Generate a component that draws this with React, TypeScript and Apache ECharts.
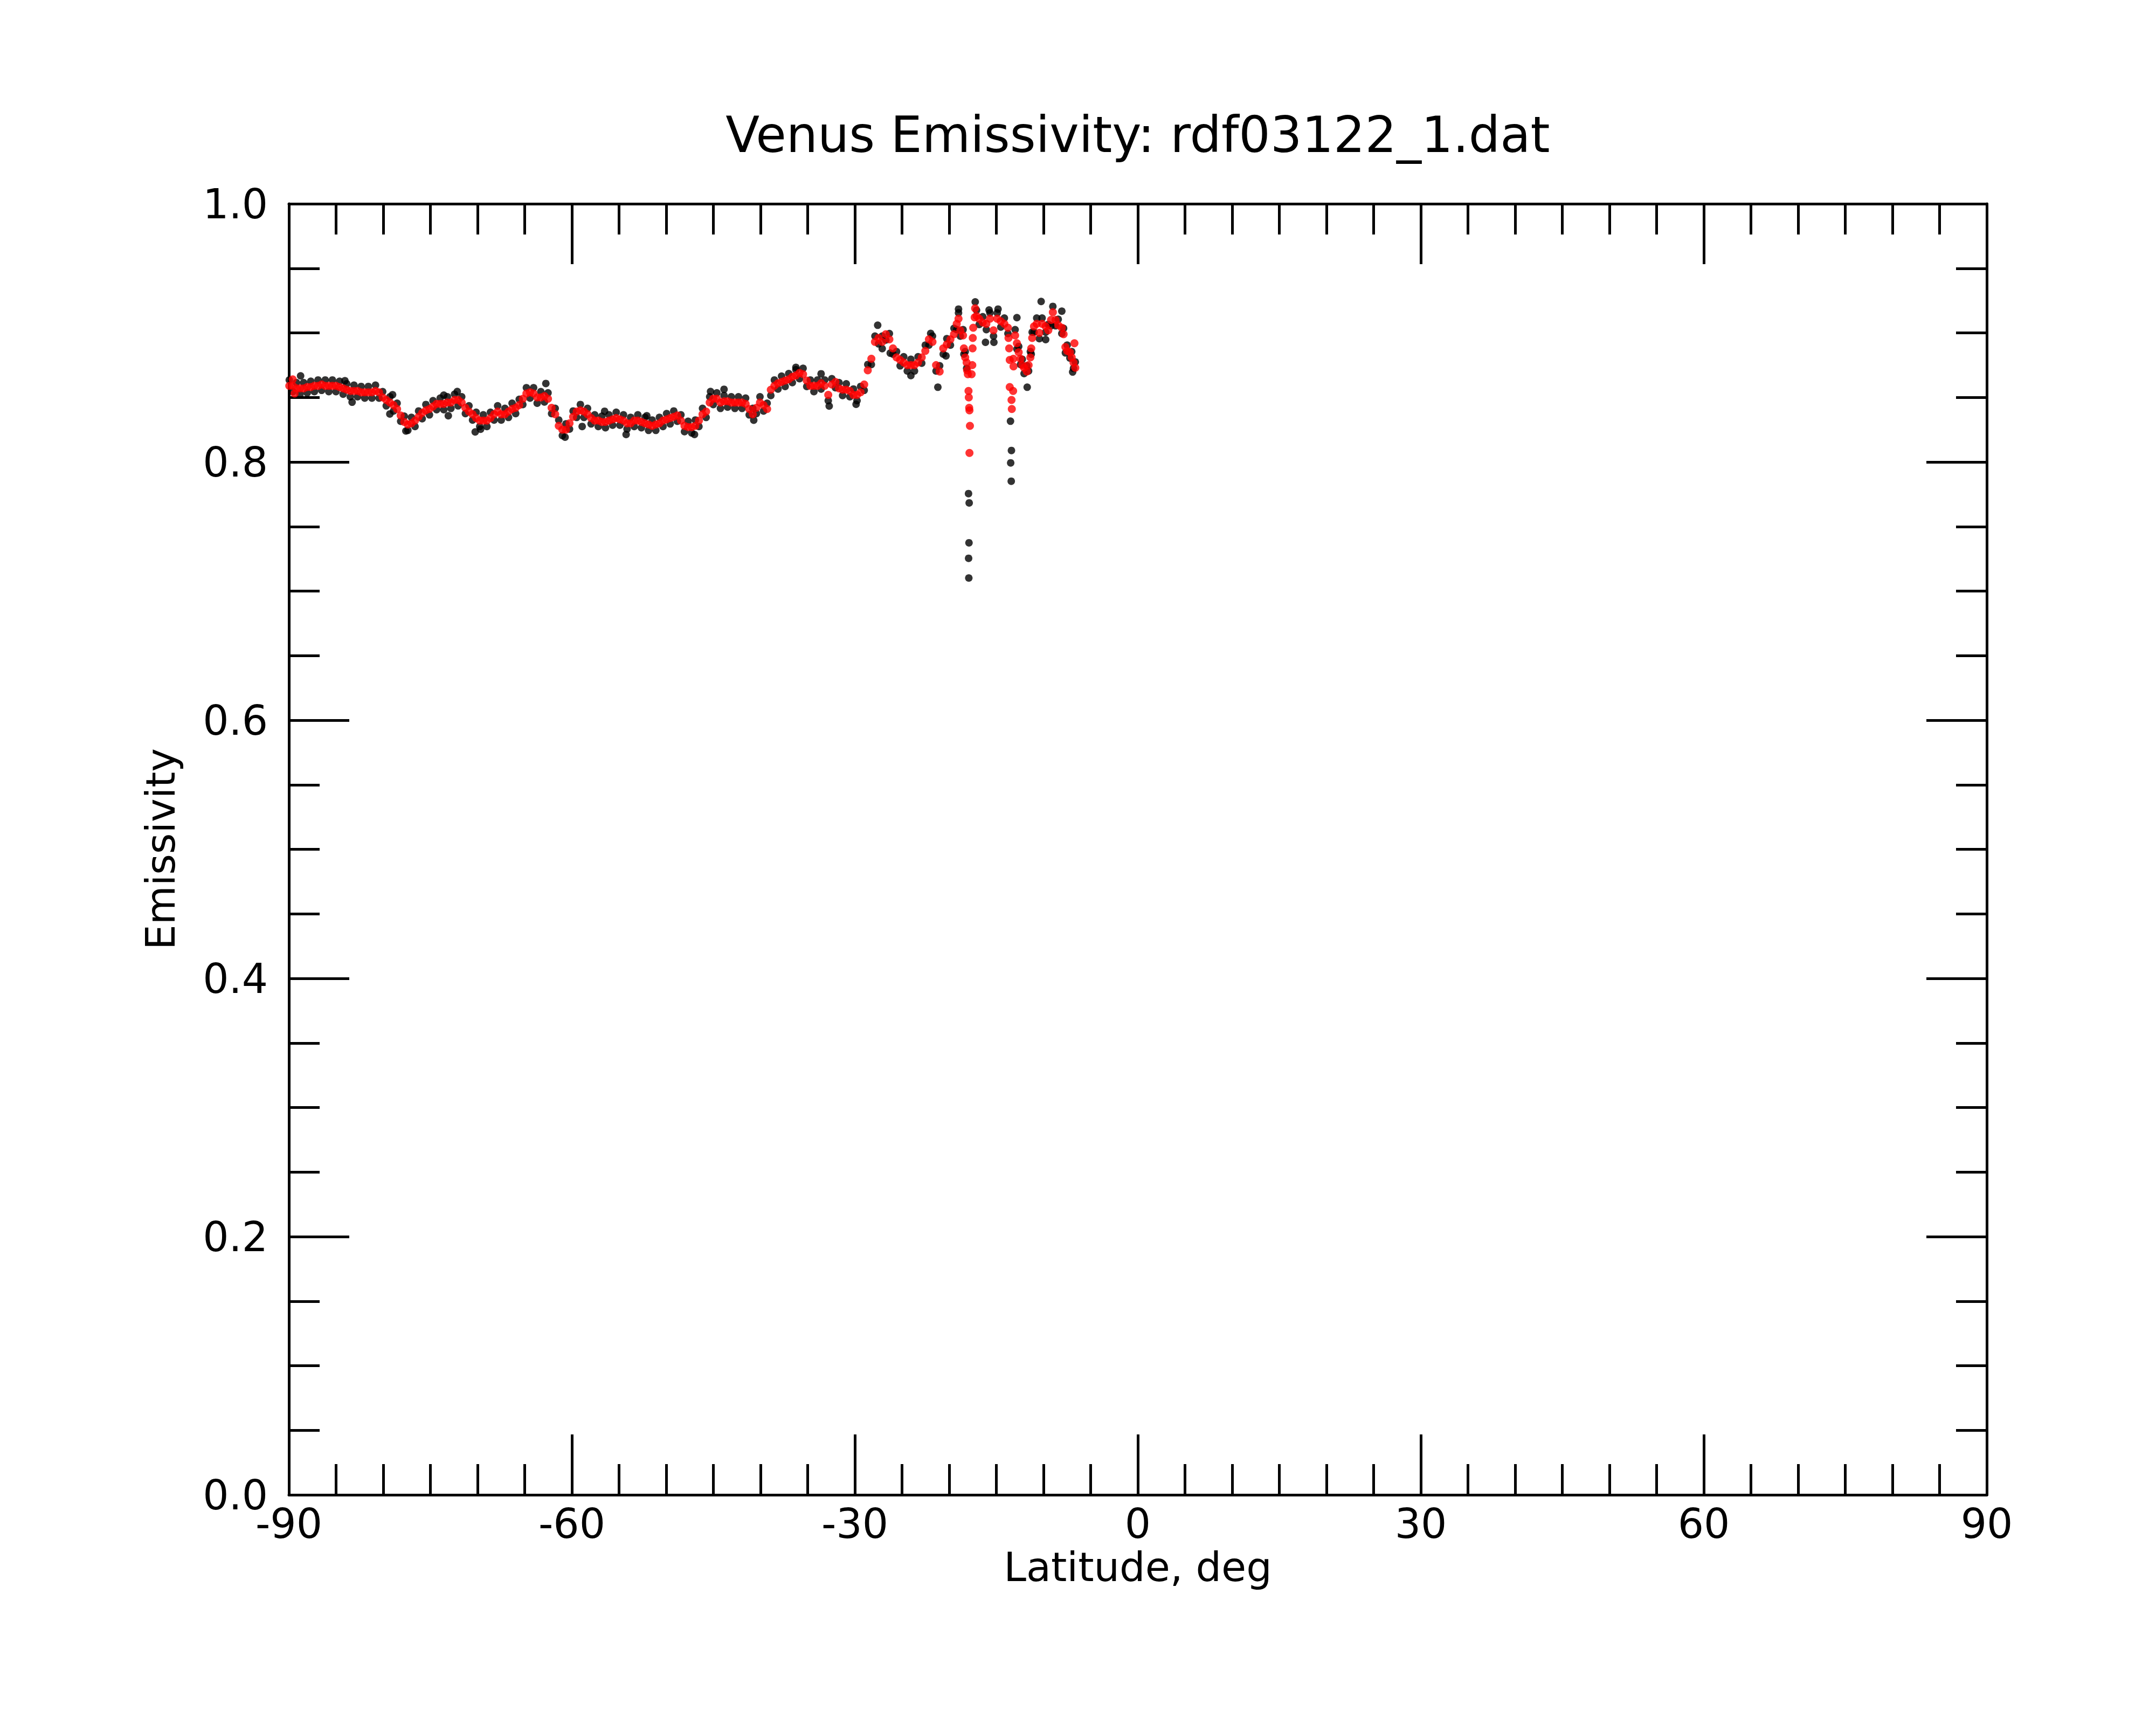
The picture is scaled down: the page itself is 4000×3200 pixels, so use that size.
import React, { useEffect, useRef } from "react";
import * as echarts from "echarts";

// ---- Data ----
const TITLE = "Venus Emissivity: rdf03122_1.dat";
const X_NAME = "Latitude, deg";
const Y_NAME = "Emissivity";

// latitudes of the smoothed (red) track, with black raw samples beside them
const BAND_LAT = [
  -89.96, -89.58, -89.20, -88.82, -88.44, -88.06, -87.68, -87.30, -86.91, -86.53,
  -86.15, -85.77, -85.39, -85.01, -84.63, -84.25, -83.87, -83.49, -83.10, -82.72,
  -82.34, -81.96, -81.58, -81.20, -80.82, -80.44, -80.06, -79.68, -79.29, -78.91,
  -78.53, -78.15, -77.77, -77.39, -77.01, -76.63, -76.25, -75.87, -75.48, -75.10,
  -74.72, -74.34, -73.96, -73.58, -73.20, -72.82, -72.44, -72.06, -71.68, -71.29,
  -70.91, -70.53, -70.15, -69.77, -69.39, -69.01, -68.63, -68.25, -67.87, -67.49,
  -67.10, -66.72, -66.34, -65.96, -65.58, -65.20, -64.82, -64.44, -64.06, -63.68,
  -63.29, -62.91, -62.53, -62.15, -61.77,
  -61.39, -61.01, -60.63, -60.25, -59.87, -59.49, -59.10, -58.72, -58.34, -57.96,
  -57.58, -57.20, -56.82, -56.44, -56.06, -55.68, -55.30, -54.91, -54.53, -54.15,
  -53.77, -53.39, -53.01, -52.63, -52.25, -51.87, -51.49, -51.10, -50.72, -50.34,
  -49.96, -49.58, -49.20, -48.82, -48.44, -48.06, -47.68, -47.30, -46.91, -46.53,
  -46.15, -45.77, -45.39, -45.01, -44.63, -44.25, -43.87, -43.49, -43.10, -42.72,
  -42.34, -41.96, -41.58, -41.20, -40.82, -40.44, -40.06, -39.68, -39.30, -38.91,
  -38.53, -38.15, -37.77, -37.39, -37.01, -36.63, -36.25, -35.87, -35.49, -35.10,
  -34.72, -34.34, -33.96, -33.58, -33.20, -32.82, -32.44, -32.06, -31.68, -31.30,
  -30.91, -30.53, -30.15, -29.77, -29.39, -29.01, -28.63, -28.25, -27.87, -27.49,
  -27.10, -26.72, -26.34, -25.96, -25.58, -25.20, -24.82, -24.44, -24.06, -23.68,
  -23.30, -22.91, -22.53, -22.15, -21.77, -21.39, -21.01, -20.63,
  -20.25, -19.87, -19.49, -19.20, -19.01, -18.82, -18.53, -18.44, -18.30, -18.15,
  -17.10, -16.82, -16.44, -16.06, -15.68, -15.30, -14.91, -14.53, -14.15, -13.77,
  -13.01, -12.82, -12.63, -12.44, -12.25, -12.06, -11.77, -11.58, -11.39, -11.30,
  -11.20, -11.01, -10.72, -10.44, -10.15, -9.77, -9.49, -9.20, -9.01, -8.72,
  -8.44, -8.06, -7.87, -7.68, -7.49, -7.20, -7.01, -6.82, -6.63,
];

const RED_VAL = [
  0.859, 0.859, 0.857, 0.857, 0.857, 0.858, 0.858, 0.859, 0.859, 0.860,
  0.859, 0.859, 0.859, 0.859, 0.858, 0.857, 0.856, 0.855, 0.855, 0.855,
  0.854, 0.854, 0.854, 0.854, 0.855, 0.854, 0.850, 0.848, 0.846, 0.844,
  0.841, 0.836, 0.831, 0.829, 0.830, 0.832, 0.835, 0.838, 0.840, 0.841,
  0.843, 0.845, 0.845, 0.845, 0.846, 0.846, 0.848, 0.848, 0.846, 0.842,
  0.839, 0.837, 0.834, 0.832, 0.832, 0.832, 0.834, 0.837, 0.839, 0.837,
  0.837, 0.839, 0.841, 0.842, 0.844, 0.849, 0.853, 0.854, 0.853, 0.850,
  0.850, 0.851, 0.849, 0.842, 0.837,
  0.828, 0.825, 0.825, 0.830, 0.835, 0.839, 0.840, 0.839, 0.837, 0.834,
  0.832, 0.832, 0.831, 0.831, 0.832, 0.833, 0.834, 0.833, 0.832, 0.830,
  0.830, 0.832, 0.832, 0.831, 0.830, 0.829, 0.828, 0.829, 0.830, 0.832,
  0.833, 0.834, 0.835, 0.836, 0.832, 0.828, 0.827, 0.827, 0.828, 0.832,
  0.837, 0.839, 0.846, 0.849, 0.849, 0.846, 0.847, 0.847, 0.846, 0.846,
  0.846, 0.846, 0.845, 0.841, 0.837, 0.842, 0.846, 0.844, 0.841, 0.856,
  0.859, 0.861, 0.862, 0.863, 0.864, 0.866, 0.867, 0.869, 0.868, 0.863,
  0.859, 0.859, 0.859, 0.861, 0.859, 0.852, 0.860, 0.862, 0.857, 0.856,
  0.856, 0.855, 0.852, 0.852, 0.854, 0.860, 0.871, 0.880, 0.893, 0.896,
  0.893, 0.899, 0.895, 0.888, 0.881, 0.879, 0.877, 0.875, 0.875, 0.875,
  0.877, 0.881, 0.886, 0.895, 0.893, 0.875, 0.870, 0.888,
  0.891, 0.895, 0.899, 0.907, 0.911, 0.902, 0.898, 0.888, 0.881, 0.877,
  0.913, 0.911, 0.908, 0.907, 0.911, 0.902, 0.911, 0.909, 0.907, 0.904,
  0.898, 0.892, 0.885, 0.880, 0.875, 0.873, 0.870, 0.875, 0.881, 0.888,
  0.896, 0.905, 0.907, 0.900, 0.907, 0.905, 0.902, 0.910, 0.916, 0.910,
  0.906, 0.904, 0.899, 0.889, 0.886, 0.885, 0.881, 0.877, 0.873,
];

const BLACK_VAL = [
  0.8635, 0.8545, 0.8615, 0.8525, 0.8615, 0.8535, 0.8625, 0.8545, 0.8635, 0.8555,
  0.8635, 0.8545, 0.8635, 0.8545, 0.8625, 0.8525, 0.8605, 0.8505, 0.8595, 0.8505,
  0.8585, 0.8495, 0.8585, 0.8495, 0.8595, 0.8495, 0.8545, 0.8435, 0.8505, 0.8395,
  0.8455, 0.8315, 0.8355, 0.8245, 0.8345, 0.8275, 0.8395, 0.8335, 0.8445, 0.8365,
  0.8475, 0.8405, 0.8495, 0.8405, 0.8505, 0.8415, 0.8525, 0.8435, 0.8505, 0.8375,
  0.8435, 0.8325, 0.8385, 0.8275, 0.8365, 0.8275, 0.8385, 0.8325, 0.8435, 0.8325,
  0.8415, 0.8345, 0.8455, 0.8375, 0.8485, 0.8445, 0.8575, 0.8495, 0.8575, 0.8455,
  0.8545, 0.8465, 0.8535, 0.8375, 0.8415,
  0.8325, 0.8205, 0.8295, 0.8255, 0.8395, 0.8345, 0.8445, 0.8345, 0.8415, 0.8295,
  0.8365, 0.8275, 0.8355, 0.8265, 0.8365, 0.8285, 0.8385, 0.8285, 0.8365, 0.8255,
  0.8345, 0.8275, 0.8365, 0.8265, 0.8345, 0.8245, 0.8325, 0.8245, 0.8345, 0.8275,
  0.8375, 0.8295, 0.8395, 0.8315, 0.8365, 0.8235, 0.8315, 0.8225, 0.8325, 0.8275,
  0.8415, 0.8345, 0.8505, 0.8445, 0.8535, 0.8415, 0.8515, 0.8425, 0.8505, 0.8415,
  0.8505, 0.8415, 0.8495, 0.8365, 0.8415, 0.8375, 0.8505, 0.8395, 0.8455, 0.8515,
  0.8635, 0.8565, 0.8665, 0.8585, 0.8685, 0.8615, 0.8715, 0.8645, 0.8725, 0.8585,
  0.8635, 0.8545, 0.8635, 0.8565, 0.8635, 0.8475, 0.8645, 0.8575, 0.8615, 0.8515,
  0.8605, 0.8505, 0.8565, 0.8475, 0.8585, 0.8555, 0.8755, 0.8755, 0.8975, 0.8915,
  0.8975, 0.8945, 0.8995, 0.8835, 0.8855, 0.8745, 0.8815, 0.8705, 0.8795, 0.8705,
  0.8815, 0.8765, 0.8905, 0.8905, 0.8975, 0.8705, 0.8745, 0.8835,
  0.8955, 0.8905, 0.9035, 0.9025, 0.9155, 0.8975, 0.9025, 0.8835, 0.8855, 0.8725,
  0.9175, 0.9065, 0.9125, 0.9025, 0.9155, 0.8975, 0.9155, 0.9045, 0.9115, 0.8995,
  0.9025, 0.8875, 0.8895, 0.8755, 0.8795, 0.8685, 0.8745, 0.8705, 0.8855, 0.8835,
  0.9005, 0.9005, 0.9115, 0.8955, 0.9115, 0.9005, 0.9065, 0.9055, 0.9205, 0.9055,
  0.9105, 0.8995, 0.9035, 0.8845, 0.8905, 0.8805, 0.8855, 0.8725, 0.8775,
];

// red points in the two sharp dips and isolated red samples: [lat, emissivity]
const RED_EXTRA = [
  [-89.6, 0.864], [-89.4, 0.853],
  [-18.10, 0.871], [-18.02, 0.868], [-17.95, 0.855], [-17.92, 0.850], [-17.88, 0.842],
  [-17.85, 0.840], [-17.80, 0.828], [-17.85, 0.807],
  [-17.62, 0.868], [-17.55, 0.875], [-17.52, 0.888], [-17.50, 0.896], [-17.45, 0.904],
  [-17.30, 0.912], [-17.25, 0.919],
  [-13.71, 0.896], [-13.64, 0.888], [-13.58, 0.879], [-13.20, 0.880], [-13.18, 0.874],
  [-13.58, 0.858], [-13.22, 0.855], [-13.39, 0.848], [-13.36, 0.841],
  [-6.72, 0.892],
];

// scattered raw (black) samples away from the band: [lat, emissivity]
const BLACK_EXTRA = [
  [-88.76, 0.8667], [-84.06, 0.8629], [-83.30, 0.8463], [-79.30, 0.8372], [-79.01, 0.8521],
  [-77.60, 0.8240], [-73.58, 0.8518], [-73.10, 0.8358], [-72.15, 0.8546], [-70.25, 0.8233],
  [-69.68, 0.8254], [-62.76, 0.8608], [-60.72, 0.8192], [-58.91, 0.8275], [-56.53, 0.8393],
  [-54.25, 0.8213], [-52.06, 0.8358], [-47.00, 0.8213], [-45.30, 0.8546], [-43.87, 0.8563],
  [-40.72, 0.8324], [-36.25, 0.8733], [-33.58, 0.8683], [-32.72, 0.8433], [-29.87, 0.8447],
  [-27.58, 0.9059], [-27.10, 0.8878], [-26.25, 0.8843], [-24.06, 0.8669], [-21.96, 0.8996],
  [-21.20, 0.8579], [-20.34, 0.8822], [-19.01, 0.9184], [-17.24, 0.9240], [-16.15, 0.8927],
  [-15.77, 0.9177], [-15.26, 0.8927], [-14.82, 0.9184], [-12.82, 0.9118], [-11.73, 0.8579],
  [-10.25, 0.9243], [-9.77, 0.8948], [-8.06, 0.9168], [-6.91, 0.8697],
  [-17.95, 0.7755], [-17.88, 0.7683], [-17.90, 0.7374], [-17.94, 0.7254], [-17.92, 0.7101],
  [-13.50, 0.8316], [-13.40, 0.8089], [-13.48, 0.7993], [-13.42, 0.7851],
];

const X_MIN = -90;
const X_MAX = 90;
const X_STEP = 30;
const Y_MIN = 0;
const Y_MAX = 1;
const Y_STEP = 0.2;

const FONT = "DejaVu Sans";

export default function App() {
  const ref = useRef<HTMLDivElement>(null);

  useEffect(() => {
    if (!ref.current) return;
    const chart = echarts.init(ref.current, undefined, { renderer: "svg" });

    const redData: number[][] = BAND_LAT.map((x, i) => [x, RED_VAL[i]]).concat(RED_EXTRA);
    const blackData: number[][] = BAND_LAT.map((x, i) => [x, BLACK_VAL[i]]).concat(BLACK_EXTRA);

    const lineStyle = { color: "#000", width: 5 };
    const makeX = (position: string, showLabel: boolean) => ({
      type: "value",
      position,
      min: X_MIN,
      max: X_MAX,
      interval: X_STEP,
      axisLine: { show: true, onZero: false, lineStyle },
      axisTick: { show: true, inside: true, length: 112, lineStyle },
      minorTick: { show: true, splitNumber: 6, length: 57, lineStyle },
      splitLine: { show: false },
      minorSplitLine: { show: false },
      axisLabel: {
        show: showLabel,
        margin: 15,
        fontSize: 76,
        lineHeight: 76,
        fontFamily: FONT,
        color: "#000",
      },
    });
    const makeY = (position: string, showLabel: boolean) => ({
      type: "value",
      position,
      min: Y_MIN,
      max: Y_MAX,
      interval: Y_STEP,
      axisLine: { show: true, onZero: false, lineStyle },
      axisTick: { show: true, inside: true, length: 112, lineStyle },
      minorTick: { show: true, splitNumber: 4, length: 57, lineStyle },
      splitLine: { show: false },
      minorSplitLine: { show: false },
      axisLabel: {
        show: showLabel,
        margin: 39,
        fontSize: 76,
        fontFamily: FONT,
        color: "#000",
        formatter: (v: number) => v.toFixed(1),
      },
    });

    chart.setOption({
      animation: false,
      backgroundColor: "#fff",
      grid: { left: 536, right: 314, top: 378, bottom: 427, containLabel: false },
      xAxis: [makeX("bottom", true), makeX("top", false)],
      yAxis: [makeY("left", true), makeY("right", false)],
      graphic: [
        {
          type: "text",
          x: 2111,
          y: 250,
          style: {
            text: TITLE,
            fontSize: 92,
            fontFamily: FONT,
            fill: "#000",
            align: "center",
            verticalAlign: "middle",
          },
        },
        {
          type: "text",
          x: 2111,
          y: 2907,
          style: {
            text: X_NAME,
            fontSize: 75,
            fontFamily: FONT,
            fill: "#000",
            align: "center",
            verticalAlign: "middle",
          },
        },
        {
          type: "text",
          x: 298,
          y: 1575,
          rotation: Math.PI / 2,
          style: {
            text: Y_NAME,
            fontSize: 74,
            fontFamily: FONT,
            fill: "#000",
            align: "center",
            verticalAlign: "middle",
          },
        },
      ],
      series: [
        {
          name: "raw",
          type: "scatter",
          xAxisIndex: 0,
          yAxisIndex: 0,
          data: blackData,
          symbol: "circle",
          symbolSize: 14,
          itemStyle: { color: "#000" },
          clip: false,
        },
        {
          name: "smoothed",
          type: "scatter",
          xAxisIndex: 0,
          yAxisIndex: 0,
          data: redData,
          symbol: "circle",
          symbolSize: 15,
          itemStyle: { color: "#ff0000" },
          clip: false,
        },
      ],
    });

    return () => chart.dispose();
  }, []);

  return (
    <div
      ref={ref}
      style={{ position: "absolute", left: 0, top: 0, width: 4000, height: 3200, background: "#fff" }}
    />
  );
}
